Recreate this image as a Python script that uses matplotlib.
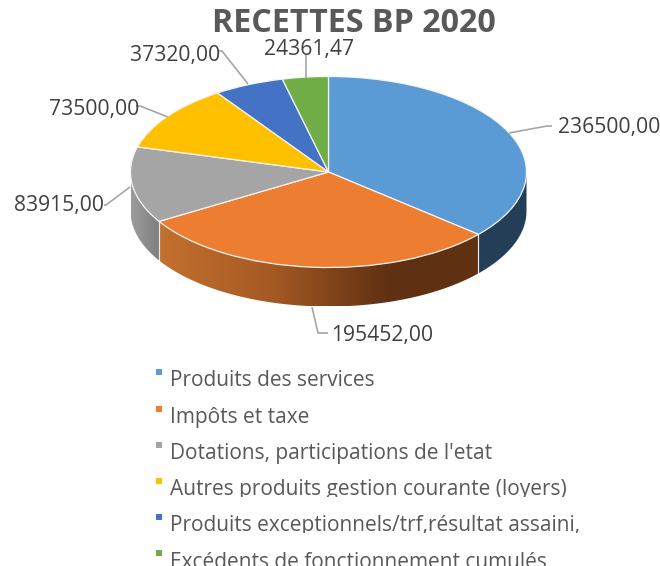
import matplotlib
matplotlib.use("Agg")
import matplotlib.pyplot as plt
import numpy as np
from matplotlib.colors import LinearSegmentedColormap
from matplotlib.patches import Polygon, Rectangle

plt.rcParams['font.family'] = ['Open Sans', 'DejaVu Sans']

categories = ["Produits des services", "Impôts et taxe", "Dotations, participations de l'etat",
              "Autres produits gestion courante (loyers)", "Produits exceptionnels/trf,résultat assaini,",
              "Excédents de fonctionnement cumulés"]
values = [236500.00, 195452.00, 83915.00, 73500.00, 37320.00, 24361.47]
colors = ['#5B9BD5', '#ED7D31', '#A5A5A5', '#FFC000', '#4472C4', '#70AD47']
title = "RECETTES BP 2020"

W, H = 660, 566
cx, cy, rx, ry, depth = 328.5, 172, 198, 95.5, 39

fig = plt.figure(figsize=(W / 100, H / 100), dpi=100, facecolor='white')

# pie axes: one data unit is rx pixels across and ry pixels down, so the circle becomes the ellipse
pie_ax = fig.add_axes([0, 0, 1, 1])
pie_ax.pie(values, colors=colors, startangle=90, counterclock=False, radius=1,
           wedgeprops=dict(edgecolor='#F4F4F4', linewidth=0.9, zorder=5))
pie_ax.set_aspect('auto')
xlim = (-cx / rx, (W - cx) / rx)
ylim = (-(H - cy) / ry, cy / ry)

# side wall of the slices
d = depth / ry
walls = {0: [(0, '#243F57'), (1, '#243F57')],
         1: [(0, '#C4702E'), (0.35, '#A55A24'), (0.72, '#5F3012'), (1, '#5F3012')],
         2: [(0, '#9C9C9C'), (1, '#7E7E7E')]}
edges = 90 - np.concatenate([[0], np.cumsum(values)]) / np.sum(values) * 360
for i, stops in walls.items():
    lo, hi = max(edges[i + 1], -180), min(edges[i], 0)
    t = np.radians(np.linspace(lo, hi, 100))
    xs, ys = np.cos(t), np.sin(t)
    pts = np.column_stack([np.r_[xs, xs[::-1]], np.r_[ys, ys[::-1] - d]])
    wall = Polygon(pts, closed=True, facecolor='none', edgecolor='none', transform=pie_ax.transData)
    pie_ax.add_patch(wall)
    cmap = LinearSegmentedColormap.from_list('wall%d' % i, stops)
    im = pie_ax.imshow(np.linspace(0, 1, 256)[None, :], cmap=cmap, aspect='auto', zorder=2,
                       extent=(xs.min(), xs.max(), ys.min() - d, ys.max()))
    im.set_clip_path(wall)
    for a in (lo, hi):
        if -180 < a < 0:
            x, y = np.cos(np.radians(a)), np.sin(np.radians(a))
            pie_ax.plot([x, x], [y, y - d], color='#E8E8E8', lw=0.8, zorder=3)
pie_ax.set_xlim(xlim)
pie_ax.set_ylim(ylim)
pie_ax.axis('off')

# overlay in pixels for the texts
ax = fig.add_axes([0, 0, 1, 1], facecolor='none')
ax.set_xlim(0, W)
ax.set_ylim(H, 0)
ax.axis('off')

ax.text(353.5, 24, title, ha='center', va='center', fontsize=23.2, fontweight='bold', color='#595959')

# leader lines and value labels
leaders = [([509, 547, 552], [133, 126, 126]),
           ([312, 318, 328], [307, 333, 333]),
           ([130, 106, 104], [187, 205, 205]),
           ([168, 140, 136], [117, 106, 106]),
           ([248, 222, 219], [84, 51, 51]),
           ([306, 306], [78, 55])]
label_pos = [(558, 128, 'left'), (331, 336, 'left'), (104, 206, 'right'),
             (139, 110, 'right'), (220, 55, 'right'), (264, 50, 'left')]
for (lx, ly), (tx, ty, ha), v in zip(leaders, label_pos, values):
    ax.plot(lx, ly, color='#A6A6A6', lw=1.2, solid_capstyle='butt')
    ax.text(tx, ty, f"{v:.2f}".replace('.', ','), ha=ha, va='center', fontsize=15.2, color='#404040')

# legend, rows 4 and 5 are cut at the bottom in the original
rows = [381, 418, 454, 490, 526, 562]
clip_bottom = [None, None, None, 497, 533, None]
for name, col, y, cb in zip(categories, colors, rows, clip_bottom):
    ax.add_patch(Rectangle((155.5, y - 12), 6, 6, facecolor=col, edgecolor='none'))
    t = ax.text(170, y, name, ha='left', va='center', fontsize=15, color='#595959')
    if cb is not None:
        t.set_clip_on(True)
        t.set_clip_path(Rectangle((0, 0), W, cb, transform=ax.transData))

fig.savefig('out.png', dpi=100)
